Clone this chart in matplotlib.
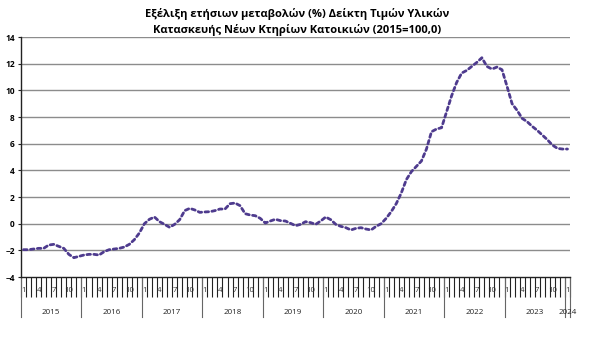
import numpy as np
import matplotlib
matplotlib.use('Agg')
import matplotlib.pyplot as plt
import matplotlib.transforms as mtransforms

plt.rcParams['font.family'] = ['Open Sans', 'DejaVu Sans']

# Ετήσια μεταβολή (%) ανά μήνα, Ιαν 2015 - Ιαν 2024
years = [2015, 2016, 2017, 2018, 2019, 2020, 2021, 2022, 2023, 2024]
v2015 = [-1.95, -1.95, -1.9, -1.85, -1.85, -1.6, -1.55, -1.7, -1.85, -2.3, -2.55, -2.45]
v2016 = [-2.35, -2.3, -2.3, -2.35, -2.1, -1.95, -1.9, -1.85, -1.75, -1.55, -1.2, -0.7]
v2017 = [0.0, 0.33, 0.5, 0.15, -0.05, -0.27, -0.05, 0.3, 0.98, 1.15, 1.03, 0.85]
v2018 = [0.88, 0.9, 0.98, 1.1, 1.1, 1.5, 1.55, 1.35, 0.75, 0.65, 0.6, 0.4]
v2019 = [0.05, 0.2, 0.33, 0.23, 0.2, 0.03, -0.15, -0.05, 0.15, 0.08, -0.05, 0.2]
v2020 = [0.5, 0.3, -0.05, -0.2, -0.3, -0.47, -0.35, -0.3, -0.4, -0.47, -0.2, 0.0]
v2021 = [0.4, 0.9, 1.5, 2.3, 3.3, 3.9, 4.3, 4.7, 5.6, 6.9, 7.1, 7.2]
v2022 = [8.4, 9.6, 10.6, 11.3, 11.5, 11.8, 12.1, 12.45, 11.8, 11.6, 11.75, 11.55]
v2023 = [10.3, 9.0, 8.5, 7.9, 7.65, 7.3, 7.0, 6.65, 6.3, 5.9, 5.65, 5.6]
v2024 = [5.6]

values = v2015 + v2016 + v2017 + v2018 + v2019 + v2020 + v2021 + v2022 + v2023 + v2024
months = [m for y in years[:-1] for m in range(1, 13)] + [1]
n = len(values)
xs = np.arange(n) + 0.5

fig = plt.figure(figsize=(6, 3.37), dpi=100)
ax = fig.add_axes([0.035, 0.178, 0.915, 0.712])

ax.plot(xs, values, color='#4e3b8e', lw=2.0, linestyle=(0, (1.3, 1.2)),
        dash_capstyle='round', zorder=3)

ax.set_xlim(0, n)
ax.set_ylim(-4, 14)
ax.set_yticks(np.arange(-4, 15, 2))
for yv in np.arange(-2, 15, 2):
    ax.axhline(yv, color='#8c8c8c', lw=1.0, zorder=1)

for s in ['top', 'right']:
    ax.spines[s].set_visible(False)
ax.spines['left'].set_color('#222222')
ax.spines['bottom'].set_color('#222222')
ax.spines['left'].set_linewidth(1.0)
ax.spines['bottom'].set_linewidth(1.0)

ax.tick_params(axis='y', length=2.5, width=0.8, color='#222222', pad=2,
               labelsize=6)
for lab in ax.get_yticklabels():
    lab.set_fontweight('bold')

# tick marks between months
ax.set_xticks(np.arange(0, n + 1))
ax.set_xticklabels([])
ax.tick_params(axis='x', length=14.5, width=0.8, color='#222222', direction='out')

trans = mtransforms.blended_transform_factory(ax.transData, ax.transAxes)

# month labels
for x, m in zip(xs, months):
    if m in (1, 4, 7, 10):
        ax.text(x, -0.058, str(m), transform=trans, ha='center', va='center',
                fontsize=5.6, color='#333333')

# year separators and labels
seps = list(range(0, n, 12)) + [n]
for s in seps:
    ax.plot([s, s], [0, -0.167], transform=trans, color='#666666', lw=0.8,
            clip_on=False)
for i, y in enumerate(years):
    start = i * 12
    end = min(start + 12, n)
    ax.text((start + end) / 2, -0.146, str(y), transform=trans, ha='center',
            va='center', fontsize=5.8, color='#222222')

fig.text(0.495, 0.977, 'Εξέλιξη ετήσιων μεταβολών (%) Δείκτη Τιμών Υλικών',
         ha='center', va='top', fontsize=8, fontweight='bold')
fig.text(0.495, 0.928, 'Κατασκευής Νέων Κτηρίων Κατοικιών (2015=100,0)',
         ha='center', va='top', fontsize=8, fontweight='bold')

fig.savefig('out.png', dpi=100)
